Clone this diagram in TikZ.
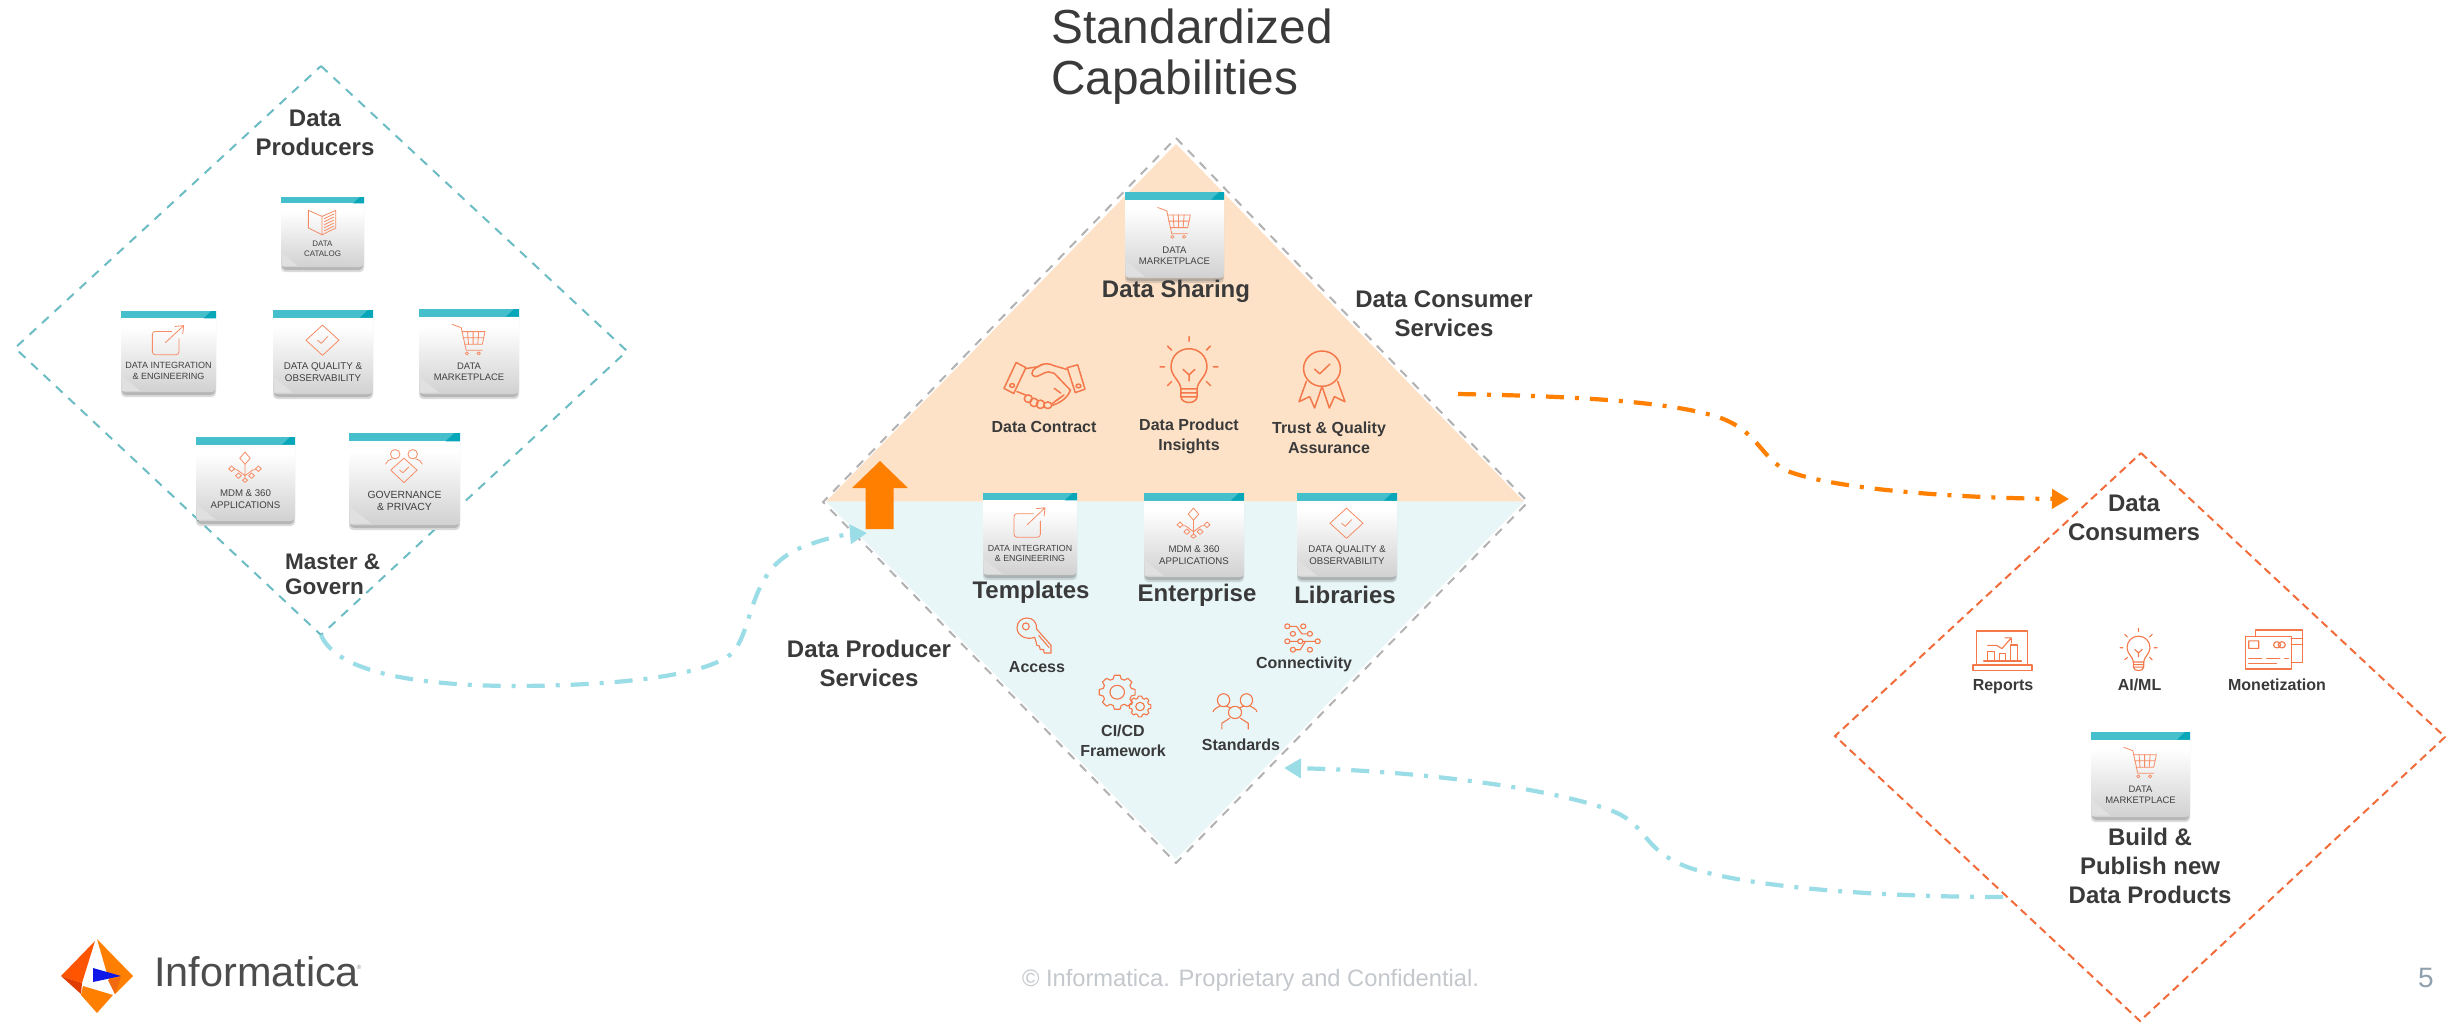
\documentclass[tikz,border=0pt]{standalone}
\usepackage{fontspec}
\setmainfont{Liberation Sans}
\usetikzlibrary{arrows.meta}
\definecolor{ink}{HTML}{3A3A3A}
\definecolor{tealdash}{HTML}{6CBCC4}
\definecolor{reddash}{HTML}{F26B3A}
\definecolor{graydash}{HTML}{B2B2B2}
\definecolor{peach}{HTML}{FDE2C8}
\definecolor{pale}{HTML}{E8F6F8}
\definecolor{flowblue}{HTML}{9ADDE6}
\definecolor{floworange}{HTML}{FF7F00}
\definecolor{iconc}{HTML}{F4784A}
\definecolor{barc}{HTML}{45BFCC}
\definecolor{bardark}{HTML}{07A6B8}
\definecolor{logoA}{HTML}{FF5500}
\definecolor{logoB}{HTML}{E03C00}
\definecolor{logoC}{HTML}{FF8000}
\definecolor{logoD}{HTML}{F26A10}
\definecolor{logoE}{HTML}{1018E8}
\definecolor{footgray}{HTML}{C4C8CC}
\definecolor{pagegray}{HTML}{8FA0AE}
\pgfdeclareverticalshading{cardshade}{100bp}{color(0bp)=(black!18); color(25bp)=(black!18); color(45bp)=(black!9); color(65bp)=(white); color(100bp)=(white)}
\tikzset{
  iconline/.style={draw=iconc,line width=1.1pt,line join=round,line cap=round},
  rimdash/.style={line width=2pt,dash pattern=on 9pt off 8pt},
  flowline/.style={line width=4.2pt,dash pattern=on 18pt off 11pt on 4pt off 11pt,-{Triangle[length=17pt,width=19pt]}},
  heading/.style={font=\fontsize{24}{29}\selectfont\bfseries,text=ink,align=center,inner sep=0pt},
  smalllabel/.style={font=\fontsize{16}{20}\selectfont\bfseries,text=ink,align=center,inner sep=0pt},
  cardface/.style={rounded corners=4pt,shading=cardshade,inner sep=0pt,outer sep=0pt},
  cardlabel/.style={text=black!75,align=center,inner sep=0pt},
}
% ----- icons, each drawn in a 0..100 square
\newcommand\icart{%
  \draw[iconline] (0,0)--(28,11)--(43,85)--(92,85);
  \draw[iconline] (30,24)--(100,24)--(92,65)--(38,65);
  \draw[iconline] (47,24)--(50,65) (64,24)--(64,65) (81,24)--(78,65) (33,44)--(96,44);
  \draw[iconline] (45,95) circle[x radius=5,y radius=5] (81,95) circle[x radius=5,y radius=5];}
\newcommand\ibook{%
  \draw[iconline] (0,3)--(50,27)--(50,100)--(0,73)--cycle (50,27)--(100,3)--(100,73)--(50,100);
  \draw[iconline] (58,36)--(92,18) (58,48)--(92,30) (58,60)--(92,42) (58,72)--(92,54) (58,84)--(92,66);}
\newcommand\ilink{%
  \draw[iconline,rounded corners=3pt] (62,20)--(0,20)--(0,100)--(85,100)--(85,45);
  \draw[iconline] (42,58)--(100,0) (72,3)--(100,0)--(97,28);}
\newcommand\icheckdiamond{%
  \draw[iconline] (50,0)--(100,50)--(50,100)--(0,50)--cycle;
  \draw[iconline] (35,50)--(46,60)--(66,38);}
\newcommand\itree{%
  \draw[iconline] (50,0)--(66,20)--(50,40)--(34,20)--cycle;
  \draw[iconline] (50,40)--(50,86) (50,78)--(25,58)--(18,58) (50,78)--(75,58)--(82,58);
  \draw[iconline] (50,86)--(58,93)--(50,100)--(42,93)--cycle;
  \foreach \p/\q in {9/55,91/55,30/78,70/78}{\draw[iconline] (\p-9,\q)--(\p,\q-9)--(\p+9,\q)--(\p,\q+9)--cycle;}}
\newcommand\igov{%
  \draw[iconline] (26,14) circle[x radius=13,y radius=14] (74,14) circle[x radius=13,y radius=14];
  \draw[iconline] (0,44) .. controls (2,34) and (10,30) .. (18,28) (100,44) .. controls (98,34) and (90,30) .. (82,28);
  \draw[iconline] (50,26)--(86,62)--(50,100)--(14,62)--cycle;
  \draw[iconline] (38,62)--(47,70)--(64,52);}
\newcommand\ibulb{%
  \draw[iconline] (36,79) .. controls (36,68) and (19,60) .. (19,46) .. controls (19,30) and (33,19) .. (50,19) .. controls (67,19) and (81,30) .. (81,46) .. controls (81,60) and (64,68) .. (64,79)--cycle;
  \draw[iconline] (36,79)--(36,91) .. controls (38,102) and (62,102) .. (64,91)--(64,79) (36,85)--(64,85) (36,91)--(64,91);
  \draw[iconline] (40,50)--(50,58)--(60,50) (50,58)--(50,67);
  \draw[iconline] (50,1)--(50,8) (0,46)--(8,46) (92,46)--(100,46) (13,15)--(20,21) (87,15)--(80,21) (13,74)--(20,68) (87,74)--(80,68);}
\newcommand\ishake{%
  \draw[iconline] (15,1)--(27,12)--(12,67)--(0,56)--cycle (78,12)--(91,6)--(100,58)--(88,65)--cycle;
  \draw[iconline] (10,50) circle[x radius=3,y radius=4] (92,51) circle[x radius=3,y radius=4];
  \draw[iconline] (27,14)--(42,10) .. controls (47,2) and (56,2) .. (62,8)--(78,16);
  \draw[iconline] (48,5) .. controls (36,13) and (30,24) .. (38,31) .. controls (43,32) and (48,22) .. (55,21)--(62,24)--(82,60) .. controls (80,70) and (74,84) .. (60,92);
  \draw[iconline] (16,63)--(28,71) (65,82)--(74,70) (60,88)--(69,76) (70,66)--(62,56);
  \draw[iconline] (30,78) circle[x radius=5,y radius=8] (37,86) circle[x radius=5,y radius=9] (45,90) circle[x radius=5,y radius=9] (54,92) circle[x radius=5,y radius=7];}
\newcommand\iribbon{%
  \draw[iconline] (50,31) circle[x radius=40,y radius=31];
  \draw[iconline] (34,32)--(45,40)--(67,23);
  \draw[iconline] (16,53)--(0,89)--(23,80)--(34,100)--(50,62)--(66,100)--(77,80)--(100,89)--(84,53);}
\newcommand\ikey{%
  \draw[iconline] (52,55) .. controls (30,64) and (0,52) .. (0,28) .. controls (0,10) and (14,0) .. (29,0) .. controls (48,0) and (58,12) .. (58,32)--(100,78)--(100,100)--(80,100)--(78,90)--(68,90)--(66,80)--(58,78)--(56,68)--cycle;
  \draw[iconline] (64,50)--(94,84);
  \draw[iconline] (26,24) circle[x radius=10,y radius=10];}
\newcommand\inetw{%
  \foreach \p/\q in {9/11,52/11,24/36,70/36,9/61,44/61,91/61,24/89,70/89}{\draw[iconline] (\p,\q) circle[x radius=7,y radius=8];}
  \draw[iconline] (16,11)--(34,11)--(48,36)--(63,36) (16,61)--(37,61) (51,61)--(60,61) (31,89)--(44,89)--(58,61)--(84,61);}
\newcommand\gearat[4]{%
  \begin{scope}[shift={(#1,#2)},xscale=#3,yscale=#4]
    \draw[iconline] (-16:.8) \foreach \a in {0,45,...,315}{ -- (\a-9:1) -- (\a+9:1) -- (\a+16:.8) -- (\a+29:.8)} -- cycle;
    \draw[iconline] (0,0) circle[radius=.4];
  \end{scope}}
\newcommand\igears{\gearat{35}{41}{35}{41}\gearat{79}{75}{21}{25}}
\newcommand\ipeople{%
  \draw[iconline] (24,20) circle[x radius=14,y radius=18] (76,20) circle[x radius=14,y radius=18] (50,54) circle[x radius=15,y radius=17];
  \draw[iconline] (0,52) .. controls (2,44) and (10,40) .. (16,36) (100,52) .. controls (98,44) and (90,40) .. (84,36) (30,36)--(40,42) (70,36)--(60,42);
  \draw[iconline] (20,100)--(20,84)--(38,70) (80,100)--(80,84)--(62,70);}
\newcommand\ireport{%
  \draw[iconline] (6,85)--(6,0)--(93,0)--(93,85);
  \draw[iconline] (0,85) rectangle (100,98);
  \draw[iconline] (25,52) rectangle (36,75) (45,57) rectangle (55,75) (63,35) rectangle (75,75) (18,75)--(82,75);
  \draw[iconline] (25,36)--(40,36)--(49,44)--(65,17) (54,17)--(65,17)--(65,30);}
\newcommand\imoney{%
  \draw[iconline] (2,16) rectangle (80,100);
  \draw[iconline] (20,16)--(20,0)--(99,0)--(99,84)--(80,84) (80,21)--(99,21) (80,37)--(99,37);
  \draw[iconline] (8,28) rectangle (25,47) (56,38) circle[x radius=6,y radius=8] (64,38) circle[x radius=6,y radius=8];
  \draw[iconline,dash pattern=on 13pt off 5pt] (8,74)--(75,74);
  \draw[iconline] (8,86)--(55,86);}
% place an icon macro inside a box given by its corners
\newcommand\iconat[5]{%
  \pgfmathsetmacro\iconw{(#4-#2)/100}\pgfmathsetmacro\iconh{(#5-#3)/100}%
  \begin{scope}[shift={(#2,#3)},xscale=\iconw,yscale=\iconh]#1\end{scope}}
% cards: id, x1,y1,x2,y2, icon, text, font size
\newcommand\cardbox[8]{%
  \pgfmathsetmacro\cardw{#4-#2}\pgfmathsetmacro\cardh{#5-#3}%
  \pgfmathsetmacro\cardx{(#2+#4)/2}\pgfmathsetmacro\cardy{(#3+#5)/2}%
  \pgfmathsetmacro\cardty{#3+.74*\cardh}%
  \pgfmathsetmacro\cardfs{#8*1.05}%
  \pgfmathsetmacro\cardsh{#8*1.22}%
  \fill[black!55,opacity=.25,rounded corners=4pt] (#2,#3+6) rectangle (#4,#5+5);
  \fill[black!55,opacity=.35,rounded corners=4pt] (#2+1,#3+6) rectangle (#4-1,#5+3);
  \node[cardface,minimum width=\cardw pt,minimum height=\cardh pt] (#1) at (\cardx,\cardy) {};
  \begin{scope}[shift={(#2,#3)},xscale=\cardw/100,yscale=\cardh/100]
    \fill[black!12] (1,98.5)--(1,80)--(20,98.5)--cycle;
    \fill[barc] (0,0) rectangle (100,9);
    \fill[bardark] (87,9)--(100,9)--(100,0)--(95,0)--cycle;
    \begin{scope}[shift={(33,18)},xscale=.33,yscale=.36,iconline/.append style={line width=.8pt,draw=iconc!85}]#6\end{scope}
  \end{scope}
  \node[cardlabel,font=\fontsize{\cardfs}{\cardsh}\selectfont] (#1-label) at (\cardx,\cardty) {#7};}
\begin{document}
\begin{tikzpicture}[x=1pt,y=-1pt]
\useasboundingbox (0,0) rectangle (2458,1023);
\fill[white] (0,0) rectangle (2458,1023);
% ---------- anchors
\coordinate (prodT) at (321,66);\coordinate (prodR) at (627,351);\coordinate (prodB) at (321,635);\coordinate (prodL) at (15,348);
\coordinate (midT) at (1176,138);\coordinate (midR) at (1528,502);\coordinate (midB) at (1176,863);\coordinate (midL) at (823,502);
\coordinate (consT) at (2141,453);\coordinate (consR) at (2445,737);\coordinate (consB) at (2140,1021);\coordinate (consL) at (1835,736);
\coordinate (midIn) at (867,533);\coordinate (midOut) at (1458,394);\coordinate (consIn) at (2069,499);
\coordinate (consOut) at (2003,897);\coordinate (midIn2) at (1284,768);
% ---------- title
\node[anchor=west,inner sep=0pt,align=left,text=ink,font=\fontsize{47.8}{51}\selectfont] (title) at (1051,57) {Standardized\\Capabilities};
% ---------- left diamond
\draw[tealdash,rimdash] (prodT)--(prodR)--(prodB)--(prodL)--cycle;
\fill[white] (340,428) rectangle (463,530);
\node[heading] (producers) at (315,133) {Data\\Producers};
\cardbox{catalog}{281}{197}{364}{267}{\ibook}{DATA\\CATALOG}{7.6}
\cardbox{dileft}{121}{311}{216}{392}{\ilink}{DATA INTEGRATION\\\& ENGINEERING}{8.6}
\cardbox{dqleft}{273}{310}{373}{394}{\icheckdiamond}{DATA QUALITY \&\\OBSERVABILITY}{9.3}
\cardbox{mpleft}{419}{309}{519}{394}{\icart}{DATA\\MARKETPLACE}{9}
\cardbox{mdmleft}{196}{437}{295}{521}{\itree}{MDM \& 360\\APPLICATIONS}{9.2}
\cardbox{gov}{349}{433}{460}{525}{\igov}{GOVERNANCE\\\& PRIVACY}{9.9}
\node[anchor=west,inner sep=0pt,align=left,text=ink,font=\fontsize{22.5}{25.5}\selectfont\bfseries] (master) at (285,574.5) {Master \&\\Govern};
% ---------- centre diamond
\fill[peach] (826,501.5)--(1176,144)--(1524,501.5)--cycle;
\fill[pale] (826,501.5)--(1524,501.5)--(1176,859)--cycle;
\draw[graydash,rimdash] (midT)--(midR)--(midB)--(midL)--cycle;
\fill[floworange] (852,488)--(880,461)--(908,488)--(893.5,488)--(893.5,529)--(865.5,529)--(865.5,488)--cycle;
\cardbox{mpshare}{1125}{192}{1224}{278}{\icart}{DATA\\MARKETPLACE}{9.1}
\node[heading] (sharing) at (1176,291.5) {Data Sharing};
\node[heading] (consumerserv) at (1444,313.5) {Data Consumer\\Services};
\begin{scope}[iconline/.append style={line width=1.5pt}]
\iconat{\ishake}{1004}{362}{1085}{409}
\iconat{\ibulb}{1160}{336}{1218}{403}
\iconat{\iribbon}{1299}{351}{1345}{408}
\end{scope}
\node[smalllabel] (contract) at (1044,427) {Data Contract};
\node[smalllabel] (insights) at (1189,436.5) {Data Product\\Insights};
\node[smalllabel] (trust) at (1329,438) {Trust \& Quality\\Assurance};
\cardbox{dimid}{983}{493}{1077}{575}{\ilink}{DATA INTEGRATION\\\& ENGINEERING}{8.4}
\cardbox{mdmmid}{1144}{493}{1244}{577}{\itree}{MDM \& 360\\APPLICATIONS}{9.2}
\cardbox{dqmid}{1297}{493}{1397}{577}{\icheckdiamond}{DATA QUALITY \&\\OBSERVABILITY}{9.2}
\node[heading] (templates) at (1031,592.5) {Templates};
\node[heading] (enterprise) at (1197,595.5) {Enterprise};
\node[heading] (libraries) at (1345,594.5) {Libraries};
\node[heading] (producerserv) at (869,663) {Data Producer\\Services};
\iconat{\ikey}{1017}{618}{1051}{653}
\iconat{\inetw}{1284}{623}{1321}{653}
\iconat{\igears}{1099}{675}{1151}{717}
\iconat{\ipeople}{1213}{693}{1257}{729}
\node[smalllabel] (access) at (1037,667) {Access};
\node[smalllabel] (connect) at (1304,664.5) {Connectivity};
\node[smalllabel] (cicd) at (1123,741) {CI/CD\\Framework};
\node[smalllabel] (standards) at (1241,745) {Standards};
% ---------- right diamond
\draw[reddash,rimdash,dash pattern=on 8pt off 5pt] (consT)--(consR)--(consB)--(consL)--cycle;
\node[heading] (consumers) at (2134,518) {Data\\Consumers};
\iconat{\ireport}{1973}{631}{2032}{671}
\iconat{\ibulb}{2120}{628}{2157}{671}
\iconat{\imoney}{2244}{630}{2303}{669}
\node[smalllabel] (reports) at (2003,686.5) {Reports};
\node[smalllabel] (aiml) at (2139.5,685) {AI/ML};
\node[smalllabel] (money) at (2277,685) {Monetization};
\cardbox{mpright}{2091}{732}{2190}{817}{\icart}{DATA\\MARKETPLACE}{9}
\node[heading] (publish) at (2150,866) {Build \&\\Publish new\\Data Products};
% ---------- flows
\draw[flowblue,flowline] (prodB) .. controls (335,668) and (400,685) .. (510,686) .. controls (620,686) and (715,675) .. (735,650) .. controls (755,620) and (750,570) .. (800,548) .. controls (820,540) and (840,535) .. (midIn);
\draw[floworange,flowline] (midOut) .. controls (1560,396) and (1660,400) .. (1715,416) .. controls (1760,430) and (1760,460) .. (1790,472) .. controls (1840,490) and (1960,498) .. (consIn);
\draw[flowblue,flowline] (consOut) .. controls (1900,897) and (1760,890) .. (1690,868) .. controls (1640,850) and (1650,825) .. (1610,810) .. controls (1540,785) and (1400,770) .. (midIn2);
% ---------- footer
\fill[logoA] (95,941)--(61,976)--(82,983)--cycle;
\fill[logoB] (61,976)--(82,983)--(81,994)--cycle;
\fill[logoC] (83,986)--(113,995)--(97,1013)--(81,995)--cycle;
\fill[logoC] (97,939)--(133,976)--(115,994)--(108,977)--cycle;
\fill[logoD] (121,977)--(115,994)--(108,980)--cycle;
\fill[logoE] (93,968)--(121,976)--(93,982)--cycle;
\node[anchor=base west,inner sep=0pt,text=black!70,font=\fontsize{41.4}{46}\selectfont] (brand) at (154,986) {Informatica};
\node[inner sep=0pt,text=black!45,font=\fontsize{6}{7}\selectfont] (regmark) at (359,967) {®};
\node[inner sep=0pt,text=footgray,font=\fontsize{23.7}{28}\selectfont] (copy) at (1250.5,980) {© Informatica. Proprietary and Confidential.};
\node[inner sep=0pt,text=pagegray,font=\fontsize{28}{32}\selectfont] (pageno) at (2426,978) {5};
\end{tikzpicture}
\end{document}
